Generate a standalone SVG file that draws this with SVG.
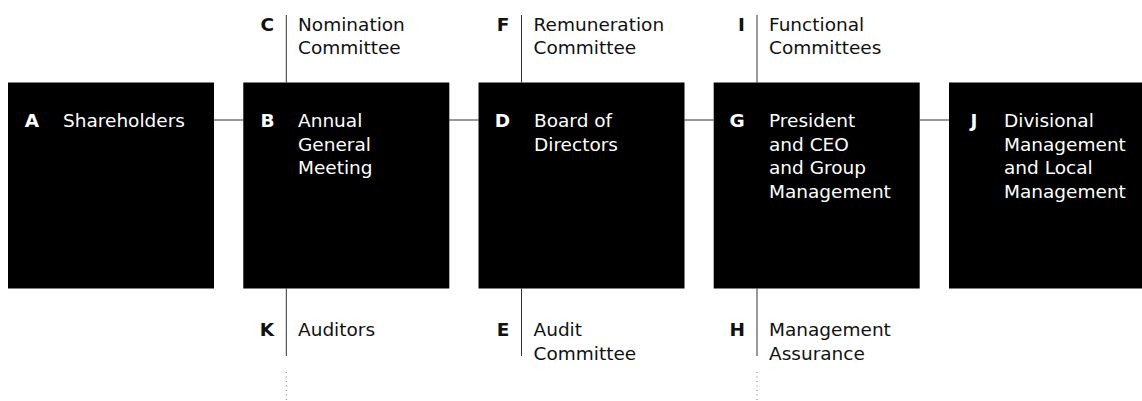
<svg xmlns="http://www.w3.org/2000/svg" width="1142" height="401" viewBox="0 0 1142 401">
<style>
.box{fill:#000}
.t{font-family:"DejaVu Sans","Liberation Sans",sans-serif;font-size:18.5px}
.w{fill:#fff}
.k{fill:#111}
.L{font-weight:bold;text-anchor:middle}
.R{font-weight:bold;text-anchor:end}
.ln{stroke:#333;stroke-width:1;fill:none}
.dot{stroke:#777;stroke-width:1;fill:none;stroke-dasharray:1 3.5}
</style>
<rect width="1142" height="401" fill="#fff"/>
<g id="connectors">
<line class="ln" x1="214" y1="120" x2="243.3" y2="120"/>
<line class="ln" x1="449.2" y1="120" x2="478.5" y2="120"/>
<line class="ln" x1="684.5" y1="120" x2="713.7" y2="120"/>
<line class="ln" x1="919.7" y1="120" x2="949" y2="120"/>
<line class="ln" x1="286.3" y1="15" x2="286.3" y2="82.5"/>
<line class="ln" x1="521.5" y1="15" x2="521.5" y2="82.5"/>
<line class="ln" x1="757" y1="15" x2="757" y2="82.5"/>
<line class="ln" x1="286.3" y1="288.5" x2="286.3" y2="356"/>
<line class="ln" x1="521.5" y1="288.5" x2="521.5" y2="356"/>
<line class="ln" x1="757" y1="288.5" x2="757" y2="356"/>
<line class="dot" x1="286.3" y1="372" x2="286.3" y2="401"/>
<line class="dot" x1="757" y1="372" x2="757" y2="401"/>
</g>
<g id="A">
<rect class="box" x="8" y="82.5" width="206" height="206"/>
<text class="t w L" x="32" y="127">A</text>
<text class="t w" x="63" y="127">Shareholders</text>
</g>
<g id="B">
<rect class="box" x="243.3" y="82.5" width="206" height="206"/>
<text class="t w L" x="267.5" y="127">B</text>
<text class="t w" x="298" y="127">Annual<tspan x="298" y="150.5">General</tspan><tspan x="298" y="174">Meeting</tspan></text>
</g>
<g id="D">
<rect class="box" x="478.5" y="82.5" width="206" height="206"/>
<text class="t w L" x="502.5" y="127">D</text>
<text class="t w" x="534" y="127">Board of<tspan x="534" y="150.5">Directors</tspan></text>
</g>
<g id="G">
<rect class="box" x="713.7" y="82.5" width="206" height="206"/>
<text class="t w L" x="737" y="127">G</text>
<text class="t w" x="769" y="127">President<tspan x="769" y="150.5">and CEO</tspan><tspan x="769" y="174">and Group</tspan><tspan x="769" y="197.5">Management</tspan></text>
</g>
<g id="J">
<rect class="box" x="949" y="82.5" width="206" height="206"/>
<text class="t w L" x="974" y="127">J</text>
<text class="t w" x="1004" y="127">Divisional<tspan x="1004" y="150.5">Management</tspan><tspan x="1004" y="174">and Local</tspan><tspan x="1004" y="197.5">Management</tspan></text>
</g>
<g id="C">
<text class="t k R" x="274" y="30.5">C</text>
<text class="t k" x="298" y="30.5">Nomination<tspan x="298" y="53.5">Committee</tspan></text>
</g>
<g id="F">
<text class="t k R" x="509.5" y="30.5">F</text>
<text class="t k" x="533.5" y="30.5">Remuneration<tspan x="533.5" y="53.5">Committee</tspan></text>
</g>
<g id="I">
<text class="t k R" x="745" y="30.5">I</text>
<text class="t k" x="769" y="30.5">Functional<tspan x="769" y="53.5">Committees</tspan></text>
</g>
<g id="K">
<text class="t k R" x="274" y="336">K</text>
<text class="t k" x="298" y="336">Auditors</text>
</g>
<g id="E">
<text class="t k R" x="509.5" y="336">E</text>
<text class="t k" x="533.5" y="336">Audit<tspan x="533.5" y="359.5">Committee</tspan></text>
</g>
<g id="H">
<text class="t k R" x="745" y="336">H</text>
<text class="t k" x="769" y="336">Management<tspan x="769" y="359.5">Assurance</tspan></text>
</g>
</svg>
